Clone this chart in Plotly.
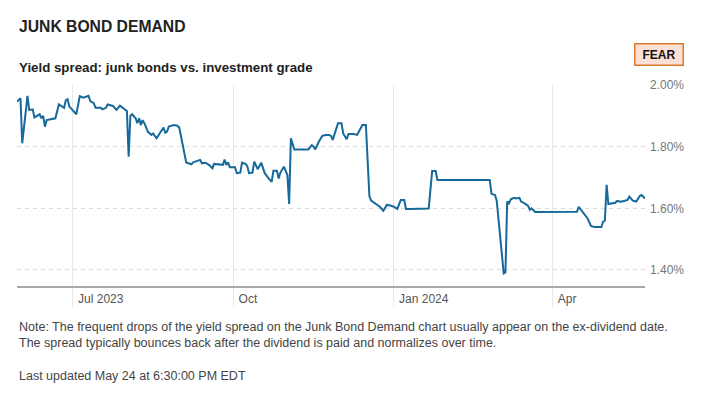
import plotly.graph_objects as go

dates = [
    "2023-05-30", "2023-06-01", "2023-06-02", "2023-06-05", "2023-06-06", "2023-06-08", "2023-06-09",
    "2023-06-12", "2023-06-13", "2023-06-14", "2023-06-15", "2023-06-16", "2023-06-21", "2023-06-23",
    "2023-06-26", "2023-06-27", "2023-06-28", "2023-06-29", "2023-06-30", "2023-07-03", "2023-07-05",
    "2023-07-07", "2023-07-10", "2023-07-11", "2023-07-13", "2023-07-14", "2023-07-17", "2023-07-18",
    "2023-07-20", "2023-07-21", "2023-07-24", "2023-07-26", "2023-07-28", "2023-07-31", "2023-08-01",
    "2023-08-02", "2023-08-03", "2023-08-04", "2023-08-06", "2023-08-07", "2023-08-08", "2023-08-09",
    "2023-08-10", "2023-08-11", "2023-08-13", "2023-08-15", "2023-08-16", "2023-08-18", "2023-08-20",
    "2023-08-22", "2023-08-23", "2023-08-24", "2023-08-25", "2023-08-28", "2023-08-30", "2023-08-31",
    "2023-09-04", "2023-09-07", "2023-09-08", "2023-09-10", "2023-09-12", "2023-09-13", "2023-09-15",
    "2023-09-17", "2023-09-19", "2023-09-20", "2023-09-23", "2023-09-25", "2023-09-26", "2023-09-27",
    "2023-09-28", "2023-09-29", "2023-10-02", "2023-10-03", "2023-10-05", "2023-10-06", "2023-10-08",
    "2023-10-09", "2023-10-10", "2023-10-12", "2023-10-13", "2023-10-14", "2023-10-15", "2023-10-17",
    "2023-10-18", "2023-10-19", "2023-10-21", "2023-10-23", "2023-10-24", "2023-10-26", "2023-10-27",
    "2023-10-28", "2023-10-30", "2023-10-31", "2023-11-01", "2023-11-02", "2023-11-03", "2023-11-05",
    "2023-11-08", "2023-11-11", "2023-11-13", "2023-11-15", "2023-11-16", "2023-11-17", "2023-11-19",
    "2023-11-21", "2023-11-23", "2023-11-25", "2023-11-26", "2023-11-27", "2023-11-28", "2023-11-30",
    "2023-12-02", "2023-12-03", "2023-12-05", "2023-12-06", "2023-12-09", "2023-12-11", "2023-12-12",
    "2023-12-14", "2023-12-16", "2023-12-18", "2023-12-19", "2023-12-21", "2023-12-24", "2023-12-26",
    "2023-12-28", "2023-12-30", "2024-01-01", "2024-01-03", "2024-01-05", "2024-01-07", "2024-01-08",
    "2024-01-10", "2024-01-21", "2024-01-23", "2024-01-25", "2024-01-26", "2024-02-25", "2024-02-26",
    "2024-02-28", "2024-02-29", "2024-03-04", "2024-03-05", "2024-03-06", "2024-03-07", "2024-03-08",
    "2024-03-10", "2024-03-11", "2024-03-13", "2024-03-14", "2024-03-16", "2024-03-18", "2024-03-19",
    "2024-03-20", "2024-03-22", "2024-04-15", "2024-04-16", "2024-04-18", "2024-04-21", "2024-04-23",
    "2024-04-25", "2024-04-29", "2024-04-30", "2024-05-01", "2024-05-02", "2024-05-03", "2024-05-05",
    "2024-05-07", "2024-05-08", "2024-05-10", "2024-05-12", "2024-05-14", "2024-05-15", "2024-05-17",
    "2024-05-19", "2024-05-21", "2024-05-22", "2024-05-23", "2024-05-24",
]

spread = [
    1.946, 1.957, 1.811, 1.965, 1.919, 1.921, 1.895,
    1.905, 1.892, 1.900, 1.865, 1.886, 1.892, 1.937,
    1.926, 1.951, 1.954, 1.930, 1.924, 1.905, 1.964,
    1.959, 1.965, 1.948, 1.941, 1.926, 1.926, 1.921,
    1.926, 1.937, 1.932, 1.919, 1.933, 1.919, 1.916,
    1.767, 1.900, 1.905, 1.892, 1.876, 1.892, 1.870,
    1.886, 1.876, 1.849, 1.838, 1.843, 1.827, 1.843,
    1.862, 1.845, 1.849, 1.865, 1.870, 1.868, 1.862,
    1.749, 1.743, 1.749, 1.754, 1.757, 1.746, 1.748,
    1.741, 1.730, 1.744, 1.741, 1.741, 1.758, 1.741,
    1.749, 1.733, 1.733, 1.714, 1.716, 1.748, 1.744,
    1.737, 1.714, 1.716, 1.751, 1.741, 1.727, 1.748,
    1.727, 1.714, 1.699, 1.686, 1.722, 1.722, 1.697,
    1.716, 1.735, 1.719, 1.708, 1.614, 1.827, 1.791,
    1.791, 1.791, 1.791, 1.805, 1.800, 1.791, 1.816,
    1.835, 1.838, 1.838, 1.835, 1.822, 1.841, 1.876,
    1.876, 1.843, 1.824, 1.841, 1.841, 1.838, 1.849,
    1.870, 1.870, 1.640, 1.625, 1.616, 1.605, 1.592,
    1.611, 1.609, 1.605, 1.598, 1.627, 1.627, 1.598,
    1.598, 1.599, 1.721, 1.721, 1.692, 1.692, 1.647,
    1.643, 1.625, 1.389, 1.392, 1.622, 1.616, 1.629,
    1.634, 1.632, 1.634, 1.622, 1.616, 1.608, 1.595,
    1.600, 1.588, 1.589, 1.605, 1.589, 1.568, 1.543,
    1.539, 1.539, 1.557, 1.560, 1.676, 1.614, 1.616,
    1.618, 1.624, 1.621, 1.624, 1.627, 1.638, 1.625,
    1.622, 1.640, 1.643, 1.636, 1.632,
]

x_tick_vals = ["2023-07-01", "2023-10-01", "2024-01-01", "2024-04-01"]
x_tick_text = ["Jul 2023", "Oct", "Jan 2024", "Apr"]
y_tick_vals = [1.4, 1.6, 1.8, 2.0]
y_tick_text = ["1.40%", "1.60%", "1.80%", "2.00%"]

title = "JUNK BOND DEMAND"
subtitle = "Yield spread: junk bonds vs. investment grade"
badge = "FEAR"
note_lines = [
    "Note: The frequent drops of the yield spread on the Junk Bond Demand chart usually appear on the ex-dividend date.",
    "The spread typically bounces back after the dividend is paid and normalizes over time.",
]
updated = "Last updated May 24 at 6:30:00 PM EDT"

FONT = "Liberation Sans, Arial, sans-serif"

fig = go.Figure()
fig.add_trace(go.Scatter(
    x=dates, y=spread, mode="lines",
    line=dict(color="#16699b", width=2),
    hoverinfo="skip", showlegend=False,
))

fig.update_layout(
    width=716, height=394,
    margin=dict(l=9, r=79, t=77, b=116),
    paper_bgcolor="white", plot_bgcolor="white",
    font=dict(family=FONT, color="#333333"),
    xaxis=dict(
        range=["2023-05-30", "2024-05-24"],
        tickvals=x_tick_vals, ticktext=x_tick_text,
        showgrid=True, gridcolor="#e8e8e8", gridwidth=1,
        showline=True, linecolor="#a8a8a8", linewidth=1.5,
        ticks="outside", ticklen=19, tickcolor="#e8e8e8", tickwidth=1,
        ticklabelposition="outside right",
        ticklabelstandoff=1, ticklabelshift=4,
        tickfont=dict(size=12, color="#555555", family=FONT),
        zeroline=False, fixedrange=True,
    ),
    yaxis=dict(
        range=[1.348, 2.0], side="right",
        tickvals=y_tick_vals, ticktext=y_tick_text,
        showgrid=True, gridcolor="#dddddd", gridwidth=1, griddash="4px,4px",
        ticks="", ticklabelstandoff=4,
        tickfont=dict(size=12, color="#777777", family=FONT),
        showline=False, zeroline=False, fixedrange=True,
    ),
)

fig.add_annotation(text=title, xref="paper", yref="paper", x=0, y=1.2935,
                   xanchor="left", yanchor="middle", showarrow=False,
                   font=dict(size=15.7, color="#222222", family=FONT, weight="bold"))
fig.add_annotation(text=subtitle, xref="paper", yref="paper", x=0, y=1.0846,
                   xanchor="left", yanchor="middle", showarrow=False,
                   font=dict(size=13.3, color="#222222", family=FONT, weight="bold"))
fig.add_annotation(text="<b>" + badge + "</b>", xref="paper", yref="paper", x=1.0223, y=1.154,
                   xanchor="center", yanchor="middle", showarrow=False,
                   width=44, height=17, borderpad=1.5,
                   bgcolor="#fde0d5", bordercolor="#d9782d", borderwidth=1.5,
                   font=dict(size=12, color="#111111", family=FONT))
for i, line in enumerate(note_lines):
    fig.add_annotation(text=line, xref="paper", yref="paper", x=0, y=-0.204 - i * 0.0796,
                       xanchor="left", yanchor="middle", showarrow=False,
                       font=dict(size=12.5, color="#444444", family=FONT))
fig.add_annotation(text=updated, xref="paper", yref="paper", x=0, y=-0.4478,
                   xanchor="left", yanchor="middle", showarrow=False,
                   font=dict(size=12.5, color="#444444", family=FONT))

fig.write_html("out.html")
